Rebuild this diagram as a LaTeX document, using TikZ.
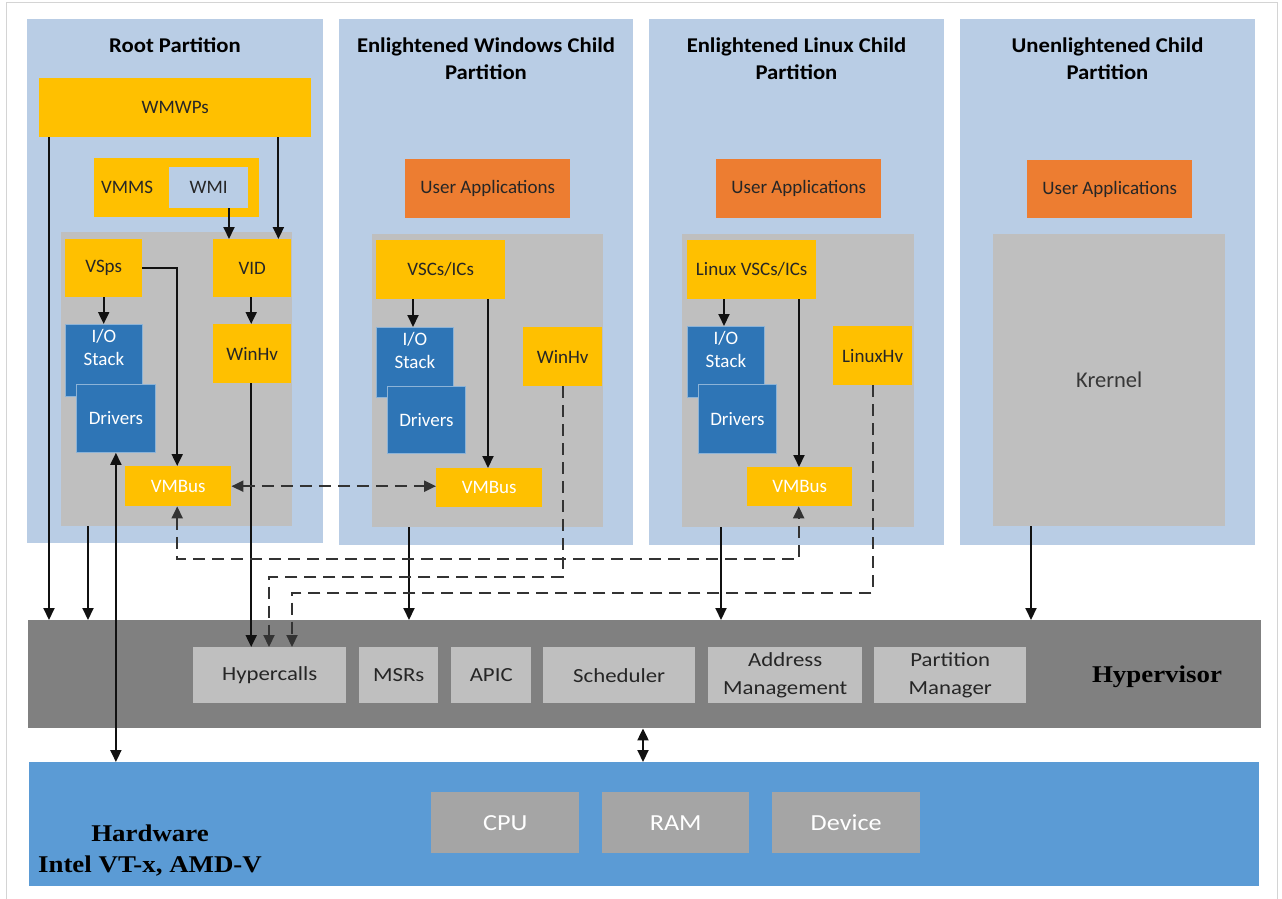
\documentclass[tikz,border=0pt]{standalone}
\usepackage{fontspec}
\setmainfont{Carlito}
\newfontfamily\ttlfont{Carlito}[FakeStretch=1.08]
\newfontfamily\hypfont{Carlito}[FakeStretch=1.14]
\newfontfamily\serfont{Liberation Serif}[FakeStretch=1.12]
\usetikzlibrary{arrows.meta}
\definecolor{partc}{HTML}{B9CDE5}
\definecolor{yel}{HTML}{FFC000}
\definecolor{org}{HTML}{ED7D31}
\definecolor{blu}{HTML}{2E75B6}
\definecolor{kgray}{HTML}{BFBFBF}
\definecolor{hypc}{HTML}{808080}
\definecolor{hwc}{HTML}{5B9BD5}
\definecolor{hwbox}{HTML}{A5A5A5}
\definecolor{txt}{HTML}{262626}
\definecolor{framec}{HTML}{D4D4D4}
\definecolor{linec}{HTML}{111111}
\newcommand{\mkbox}[7]{\node[anchor=north west,minimum width={(#5-#3)*1pt},minimum height={(#6-#4)*1pt},inner sep=0pt,#2] (#1) at (#3,#4) {#7};}
\tikzset{
  part/.style={fill=partc},
  ttl/.style={font=\ttlfont\bfseries\fontsize{21}{27}\selectfont, text=black, align=center},
  ybox/.style={fill=yel, text=txt, font=\fontsize{19}{23}\selectfont},
  wybox/.style={ybox, text=white},
  obox/.style={fill=org, text=txt, font=\fontsize{19}{23}\selectfont},
  bbox/.style={fill=blu, draw=blu!55!white, line width=0.8pt, text=white, font=\fontsize{19}{23}\selectfont},
  iolab/.style={label={[anchor=north, text=white, align=center, font=\fontsize{19}{23}\selectfont, inner sep=0pt, yshift=-5pt]north:I/O\\Stack}},
  kbox/.style={fill=kgray, text=txt},
  hbox/.style={fill=kgray, text=txt, font=\hypfont\fontsize{20}{28}\selectfont, align=center},
  hwb/.style={fill=hwbox, text=white, font=\hypfont\fontsize{23}{26}\selectfont},
  serlab/.style={font=\serfont\bfseries\fontsize{24}{31}\selectfont, text=black, align=center},
  arr/.style={line width=2pt, draw=linec, -{Triangle[length=12pt,width=11pt]}},
  barr/.style={line width=2pt, draw=linec, {Triangle[length=12pt,width=11pt]}-{Triangle[length=12pt,width=11pt]}},
  dsh/.style={dash pattern=on 12pt off 7pt, line width=2.2pt, draw=black!80},
}
\begin{document}
\begin{tikzpicture}[x=1pt,y=-1pt]
\useasboundingbox (0,0) rectangle (1282,899);
\draw[framec, line width=1pt] (6,3) rectangle (1277,910);

% partitions
\mkbox{rootp}{part}{27}{19}{323}{543}{}
\mkbox{winp}{part}{339}{19}{633}{545}{}
\mkbox{linp}{part}{649}{19}{944}{545}{}
\mkbox{unp}{part}{960}{19}{1255}{545}{}
\node[ttl] (roott) at (175,45) {Root Partition};
\node[ttl] (wint) at (486,58.5) {Enlightened Windows Child\\Partition};
\node[ttl] (lint) at (796.5,58.5) {Enlightened Linux Child\\Partition};
\node[ttl] (unt) at (1107.5,58.5) {Unenlightened Child\\Partition};

% root partition
\mkbox{wmwps}{ybox}{39}{78}{311}{137}{WMWPs}
\mkbox{vmms}{ybox,align=left,text width=151pt}{94}{158}{259}{217}{VMMS}
\mkbox{wmi}{fill=partc,text=txt,font=\fontsize{19}{23}\selectfont}{169}{167}{248}{208}{WMI}
\mkbox{rootk}{kbox}{61}{232}{292}{526}{}
\mkbox{vsps}{ybox}{65}{239}{142}{297}{VSps}
\mkbox{vid}{ybox}{213}{239}{291}{297}{VID}
\mkbox{rio}{bbox,iolab}{65}{324}{142}{396}{}
\mkbox{rdrv}{bbox}{76}{384}{155}{452}{Drivers}
\mkbox{rwinhv}{ybox}{213}{324}{291}{383}{WinHv}
\mkbox{rvmbus}{wybox}{125}{466}{231}{506}{VMBus}

% windows child
\mkbox{wua}{obox}{405}{159}{570}{218}{User Applications}
\mkbox{wkern}{kbox}{372}{234}{603}{527}{}
\mkbox{wvsc}{ybox}{376}{240}{505}{299}{VSCs/ICs}
\mkbox{wio}{bbox,iolab}{376}{327}{453}{397}{}
\mkbox{wdrv}{bbox}{387}{386}{465}{453}{Drivers}
\mkbox{wwinhv}{ybox}{523}{327}{602}{386}{WinHv}
\mkbox{wvmbus}{wybox}{436}{468}{542}{507}{VMBus}

% linux child
\mkbox{lua}{obox}{716}{159}{881}{218}{User Applications}
\mkbox{lkern}{kbox}{682}{234}{914}{527}{}
\mkbox{lvsc}{ybox}{687}{240}{816}{299}{Linux VSCs/ICs}
\mkbox{lio}{bbox,iolab}{687}{326}{764}{397}{}
\mkbox{ldrv}{bbox}{698}{384}{776}{453}{Drivers}
\mkbox{lhv}{ybox}{833}{326}{912}{385}{LinuxHv}
\mkbox{lvmbus}{wybox}{747}{467}{852}{506}{VMBus}

% unenlightened
\mkbox{uua}{obox}{1027}{160}{1192}{218}{User Applications}
\mkbox{ukern}{kbox,text=txt!92!white,font=\fontsize{22.5}{26}\selectfont}{993}{234}{1225}{526}{Krernel}

% hypervisor
\mkbox{hyp}{fill=hypc}{28}{620}{1261}{728}{}
\mkbox{hyperc}{hbox}{193}{647}{346}{703}{Hypercalls}
\mkbox{msrs}{hbox}{359}{647}{438}{703}{MSRs}
\mkbox{apic}{hbox}{451}{647}{531}{703}{APIC}
\mkbox{sched}{hbox}{543}{647}{695}{703}{Scheduler}
\mkbox{addr}{hbox}{708}{647}{862}{703}{Address\\Management}
\mkbox{pman}{hbox}{874}{647}{1026}{703}{Partition\\Manager}
\node[serlab] (hypl) at (1157,677) {Hypervisor};

% hardware
\mkbox{hw}{fill=hwc}{29}{762}{1259}{886}{}
\mkbox{cpu}{hwb}{431}{792}{579}{853}{CPU}
\mkbox{ram}{hwb}{602}{792}{749}{853}{RAM}
\mkbox{dev}{hwb}{772}{792}{920}{853}{Device}
\node[serlab] (hwl) at (150,851) {Hardware\\Intel VT-x, AMD-V};

% helper coordinates
\coordinate (dy1) at (0,559);
\coordinate (dy2) at (0,577);
\coordinate (dy3) at (0,593);

% solid connectors
\draw[arr] ([xshift=10pt]wmwps.south west) -- ([xshift=10pt]wmwps.south west |- hyp.north);
\draw[arr] ([xshift=27pt]rootk.south west) -- ([xshift=27pt]rootk.south west |- hyp.north);
\draw[arr] ([xshift=-33pt]wmwps.south east) -- ([xshift=-33pt]wmwps.south east |- vid.north);
\draw[arr] ([xshift=16pt]vid.north west |- wmi.south) -- ([xshift=16pt]vid.north west);
\draw[arr] (vsps.east) -| ([xshift=-1pt]rvmbus.north);
\draw[arr] (vsps.south) -- (vsps.south |- rio.north);
\draw[arr] ([xshift=-1pt]vid.south) -- ([xshift=-1pt]rwinhv.north);
\draw[arr] ([xshift=-1pt]rwinhv.south) -- ([xshift=-1pt]rwinhv.south |- hyperc.north);
\draw[barr] (rdrv.south) -- (rdrv.south |- hw.north);
\draw[arr] ([xshift=37pt]wkern.south west) -- ([xshift=37pt]wkern.south west |- hyp.north);
\draw[arr] ([xshift=39pt]lkern.south west) -- ([xshift=39pt]lkern.south west |- hyp.north);
\draw[arr] ([xshift=38pt]ukern.south west) -- ([xshift=38pt]ukern.south west |- hyp.north);
\draw[arr] ([xshift=37pt]wvsc.south west) -- ([xshift=37pt]wvsc.south west |- wio.north);
\draw[arr] ([xshift=112pt]wvsc.south west) -- ([xshift=112pt]wvsc.south west |- wvmbus.north);
\draw[arr] ([xshift=37pt]lvsc.south west) -- ([xshift=37pt]lvsc.south west |- lio.north);
\draw[arr] ([xshift=112pt]lvsc.south west) -- ([xshift=112pt]lvsc.south west |- lvmbus.north);
\draw[barr] ([xshift=615pt]hyp.south west) -- ([xshift=615pt]hyp.south west |- hw.north);

% dashed connectors
\draw[barr,dsh] (rvmbus.east) -- (rvmbus.east -| wvmbus.west);
\draw[barr,dsh] ([xshift=-1pt]rvmbus.south) -- ([xshift=-1pt]rvmbus.south |- dy1) -| ([xshift=-1pt]lvmbus.south);
\draw[arr,dsh] (wwinhv.south) -- (wwinhv.south |- dy2) -| ([xshift=76pt]hyperc.north west);
\draw[arr,dsh] (lhv.south) -- (lhv.south |- dy3) -| ([xshift=99pt]hyperc.north west);
\end{tikzpicture}
\end{document}
